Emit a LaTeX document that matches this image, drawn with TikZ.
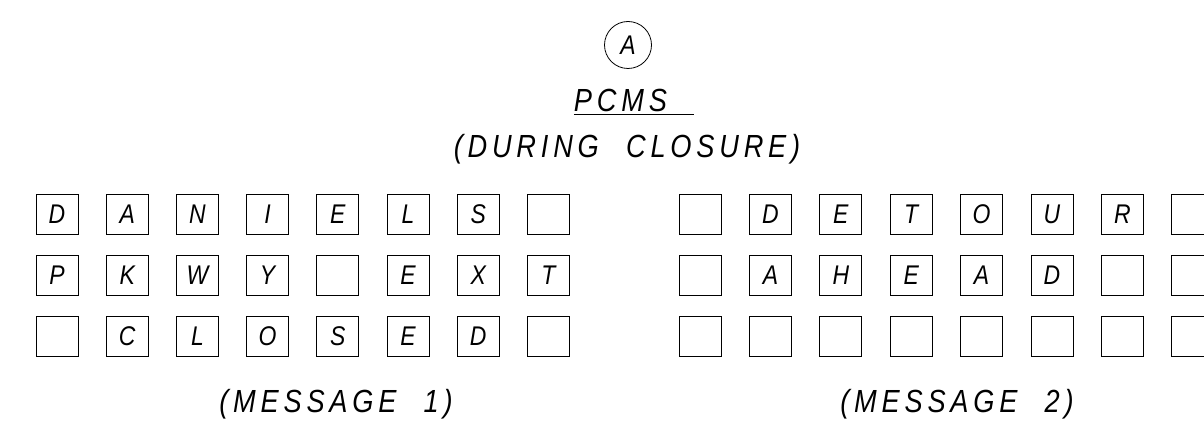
\documentclass[tikz,border=0pt]{standalone}
\usepackage{fontspec}
\setmainfont{Liberation Sans}
\newfontfamily\cadfont[LetterSpace=15, WordSpace=2.2, FakeStretch=0.85]{Liberation Sans}
\usetikzlibrary{positioning}

\begin{document}
\begin{tikzpicture}[
  x=1pt, y=-1pt,
  cell/.style={draw, line width=0.8pt, minimum width=42pt, minimum height=40pt,
               inner sep=0pt, font=\cadfont\itshape\fontsize{27}{27}\selectfont},
  tag/.style={draw, circle, line width=0.8pt, minimum size=47pt, inner sep=0pt,
              font=\cadfont\itshape\fontsize{27}{27}\selectfont},
  heading/.style={anchor=base, inner sep=0pt,
                  font=\cadfont\itshape\fontsize{32}{32}\selectfont}
]
\clip (0,0) rectangle (1204,430);
\useasboundingbox (0,0) rectangle (1204,430);
\fill[white] (0,0) rectangle (1204,430);

% sheet title
\node[tag] (tagA) at (628,45) {A};
\node[heading] (pcms) at (634,112) {\underline{PCMS~}};
\node[heading] (closure) at (627,158) {(DURING CLOSURE)};

% message 1
\foreach \row [count=\r] in {{D,A,N,I,E,L,S,{}},{P,K,W,Y,{},E,X,T},{{},C,L,O,S,E,D,{}}}
  \foreach \ch [count=\c] in \row
    \node[cell] (ma\r\c) at ({57+70.2*(\c-1)},{214+61*(\r-1)}) {\ch};
\node[heading] (msga) at (336,412) {(MESSAGE 1)};

% message 2
\foreach \row [count=\r] in {{{},D,E,T,O,U,R,{}},{{},A,H,E,A,D,{},{}},{{},{},{},{},{},{},{},{}}}
  \foreach \ch [count=\c] in \row
    \node[cell] (mb\r\c) at ({700+70.4*(\c-1)},{214+61*(\r-1)}) {\ch};
\node[heading] (msgb) at (957,412) {(MESSAGE 2)};
\end{tikzpicture}
\end{document}
